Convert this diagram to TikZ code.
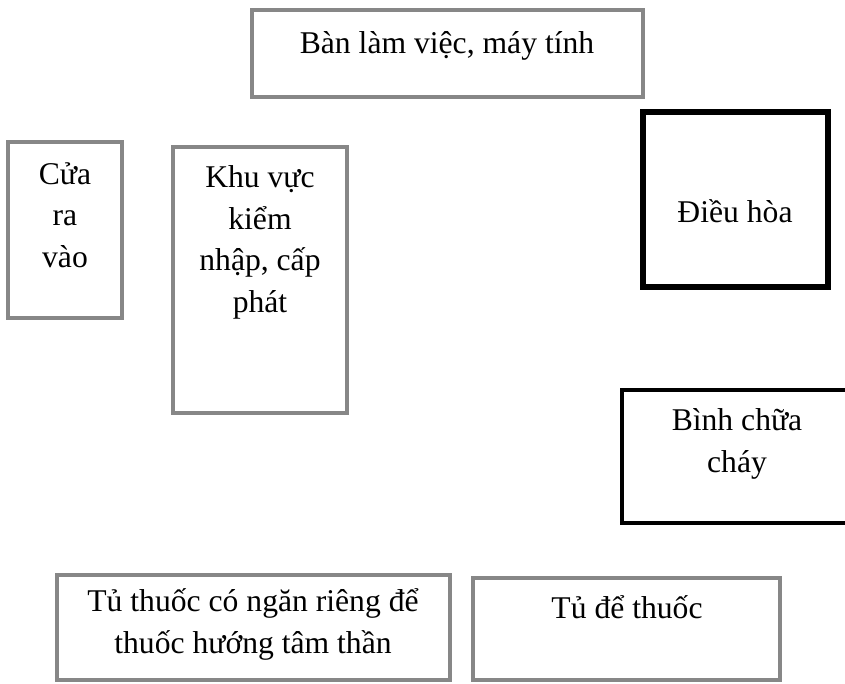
\documentclass[tikz,border=0pt]{standalone}
\usepackage{fontspec}
\setmainfont{Liberation Serif}
\definecolor{roomgray}{RGB}{135,135,135}
\tikzset{room/.style={draw=roomgray,line width=2.8pt,inner sep=0pt}}
\tikzset{thickroom/.style={room,draw=black,line width=3.9pt}}
\tikzset{fireroom/.style={room,draw=black,line width=2.5pt}}
\tikzset{lbl/.style={align=center,inner sep=0pt,anchor=base,
                     font=\fontsize{22.5}{29.5}\selectfont}}

\begin{document}
\begin{tikzpicture}[x=0.025cm,y=-0.025cm]
    \clip (0,0) rectangle (845,683);
    \fill[white] (0,0) rectangle (845,683);

    % boxes
    \node[room,minimum width=9.775cm,minimum height=2.175cm] (ban) at (447.5,53.5) {};
    \node[room,minimum width=2.85cm,minimum height=4.4cm] (door) at (65,230) {};
    \node[room,minimum width=4.35cm,minimum height=6.65cm] (kiem) at (260,280) {};
    \node[thickroom,minimum width=4.625cm,minimum height=4.375cm] (dieuhoa) at (735.5,199.5) {};
    \node[fireroom,minimum width=5.75cm,minimum height=3.325cm] (binh) at (737,456.5) {};
    \node[room,minimum width=9.825cm,minimum height=2.625cm] (tuhuong) at (253.5,627.5) {};
    \node[room,minimum width=7.675cm,minimum height=2.55cm] (tuthuoc) at (626.5,629) {};

    % Labels (base = last line)
    \node[lbl] (bantxt) at (447,54) {Bàn làm việc, máy tính};
    \node[lbl] (doortxt) at (65,267) {Cửa\\ra\\vào};
    \node[lbl] (kiemtxt) at (260,312) {Khu vực\\kiểm\\nhập, cấp\\phát};
    \node[lbl] (dieuhoatxt) at (735,222) {Điều hòa};
    \node[lbl] (binhtxt) at (737,472) {Bình chữa\\cháy};
    \node[lbl] (tuhuongtxt) at (253,653) {Tủ thuốc có ngăn riêng để\\thuốc hướng tâm thần};
    \node[lbl] (tuthuoctxt) at (627,618) {Tủ để thuốc};
\end{tikzpicture}
\end{document}
